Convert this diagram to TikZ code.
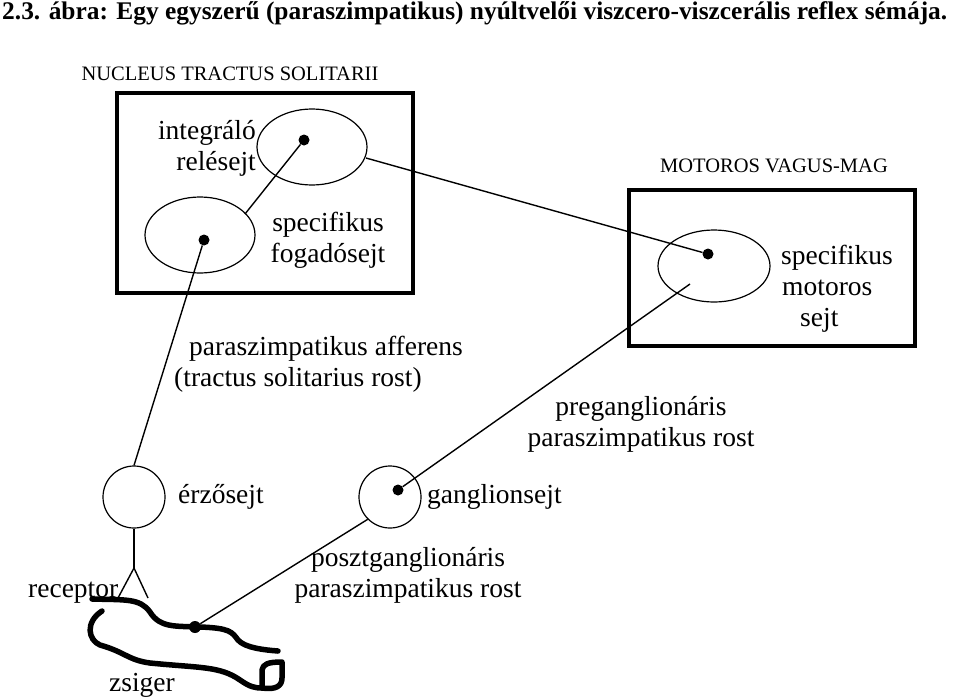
\documentclass[tikz,border=0pt]{standalone}
\usepackage{fontspec}
\setmainfont{Liberation Serif}
\begin{document}
\begin{tikzpicture}[x=1pt,y=-1pt,
  lbl/.style={font=\fontsize{27.5}{31}\selectfont,align=center,inner sep=0},
  dotc/.style={circle,fill=black,inner sep=0,minimum size=11pt},
  wire/.style={line width=1.4pt},
  organ/.style={line width=5.5pt,line cap=round,line join=round}]
\useasboundingbox (0,0) rectangle (960,699);
\node[anchor=west,inner sep=0,font=\bfseries\fontsize{25.4}{28}\selectfont] (title) at (2,13) {2.3. ábra: Egy egyszerű (paraszimpatikus) nyúltvelői viszcero-viszcerális reflex sémája.};
\node[lbl,font=\fontsize{20.5}{25}\selectfont] (nts) at (230,74) {NUCLEUS TRACTUS SOLITARII};
\draw[line width=4pt] (117,93) rectangle (413,293);
\draw[line width=4pt] (629,190) rectangle (915,346);
\node[lbl,font=\fontsize{20.5}{25}\selectfont] (mvm) at (774,166) {MOTOROS VAGUS-MAG};
% cells
\draw[line width=1.2pt] (312,147) ellipse (55 and 38);
\draw[line width=1.2pt] (200,235) ellipse (55 and 38);
\draw[line width=1.2pt] (714,266) ellipse (56 and 36);
\coordinate (relEdge) at (366,158);
\coordinate (fogEdge) at (245,214);
\coordinate (motEdge) at (690,284);
\node[dotc] (reldot) at (304,140) {};
\node[dotc] (fogdot) at (204,240) {};
\node[dotc] (motdot) at (708,254) {};
\node[draw,circle,line width=1.2pt,minimum size=62pt,inner sep=0] (erzo) at (134,497) {};
\node[draw,circle,line width=1.2pt,minimum size=62pt,inner sep=0] (gang) at (390,497) {};
\node[dotc] (gangdot) at (398,490) {};
\node[dotc,minimum size=12pt] (zsdot) at (195,627) {};
% wires
\draw[wire] (reldot) -- (fogEdge);
\draw[wire] (relEdge) -- (motdot);
\draw[wire] (fogdot) -- (erzo.north);
\draw[wire] (gangdot) -- (motEdge);
\draw[wire] (gang.south west) -- (zsdot);
\coordinate (st1) at (134,568);
\draw[wire] (erzo.south) -- (st1);
\draw[wire] (118,598) -- (st1) -- (148,598);
% organ
\draw[organ] (92,599) .. controls (125,600) and (140,598) .. (150,612)
  .. controls (160,628) and (175,626) .. (200,627)
  .. controls (230,628) and (232,632) .. (238,640)
  .. controls (245,648) and (265,650) .. (278,651);
\draw[organ] (102,611) .. controls (85,622) and (88,640) .. (100,645)
  .. controls (125,652) and (128,660) .. (150,663)
  .. controls (200,668) and (220,666) .. (240,680)
  .. controls (250,687) and (255,688) .. (262,688);
\draw[organ] (262,688) -- (262,670) .. controls (263,664) and (268,662) .. (282,662) -- (282,678) .. controls (282,686) and (276,690) .. (262,688);
% labels
\node[lbl,anchor=east,align=right] (l1) at (256,148) {integráló\\relésejt};
\node[lbl] (l2) at (328,240) {specifikus\\fogadósejt};
\node[lbl,align=left,anchor=west] (l3) at (781,289) {specifikus\\\hspace*{1pt}motoros\\\hspace*{19pt}sejt};
\node[lbl,anchor=west] (l4) at (189,349) {paraszimpatikus afferens};
\node[lbl,anchor=west] (l5) at (174,380) {(tractus solitarius rost)};
\node[lbl] (l6) at (641,424) {preganglionáris\\paraszimpatikus rost};
\node[lbl,anchor=west] (l7) at (178,497) {érzősejt};
\node[lbl,anchor=west] (l8) at (427,497) {ganglionsejt};
\node[lbl] (l9) at (408,575) {posztganglionáris\\paraszimpatikus rost};
\node[lbl,anchor=west] (l10) at (28,593) {receptor};
\node[lbl] (l11) at (142,685) {zsiger};
\end{tikzpicture}
\end{document}
